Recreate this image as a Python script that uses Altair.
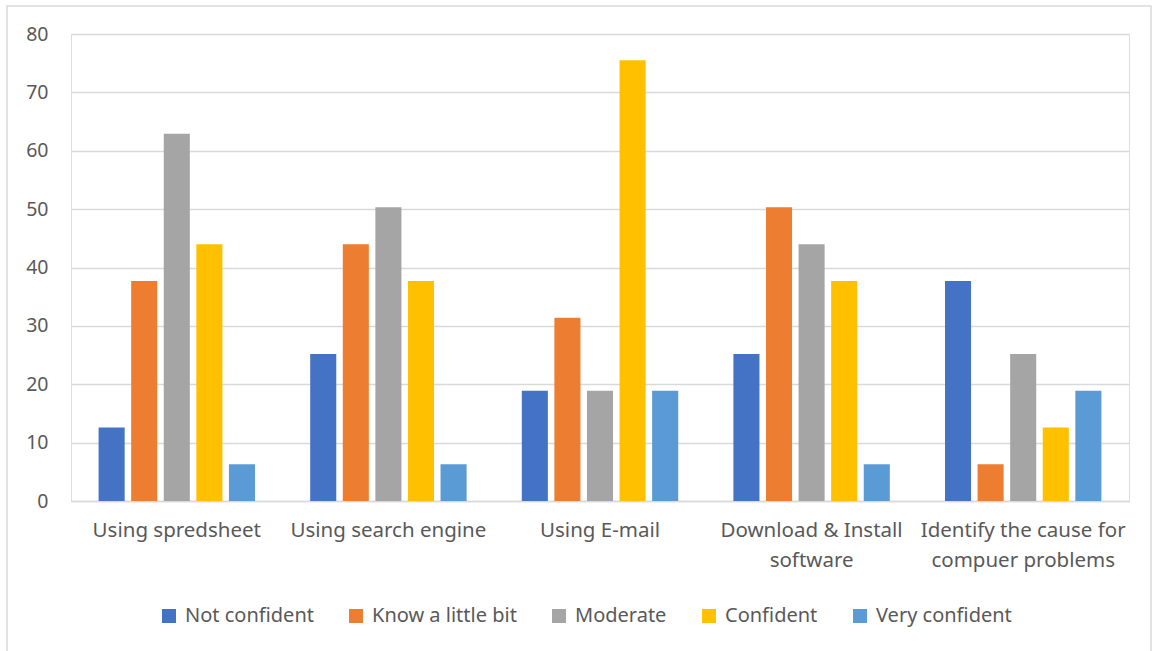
import altair as alt
import pandas as pd

categories = ["Using spredsheet", "Using search engine", "Using E-mail",
              "Download & Install software", "Identify the cause for compuer problems"]
series = ["Not confident", "Know a little bit", "Moderate", "Confident", "Very confident"]
not_confident = [12.6, 25.2, 18.9, 25.2, 37.7]
know_little = [37.7, 44.0, 31.4, 50.3, 6.3]
moderate = [62.9, 50.3, 18.9, 44.0, 25.2]
confident = [44.0, 37.7, 75.5, 37.7, 12.6]
very_confident = [6.3, 6.3, 18.9, 6.3, 18.9]
colors = ["#4472C4", "#ED7D31", "#A5A5A5", "#FFC000", "#5B9BD5"]
y_ticks = [0, 10, 20, 30, 40, 50, 60, 70, 80]

rows = []
for s, vals in zip(series, [not_confident, know_little, moderate, confident, very_confident]):
    for c, v in zip(categories, vals):
        rows.append({"category": c, "series": s, "value": v})
df = pd.DataFrame(rows)

FONT = "Noto Sans"
label_expr = ("datum.label == 'Download & Install software' ? ['Download & Install', 'software'] : "
              "datum.label == 'Identify the cause for compuer problems' ? ['Identify the cause for', 'compuer problems'] : datum.label")

bars = alt.Chart(df).mark_bar().encode(
    x=alt.X("category:N", sort=categories, title=None,
            scale=alt.Scale(paddingInner=0.23, paddingOuter=0.115),
            axis=alt.Axis(labelAngle=0, labelExpr=label_expr, ticks=False, domain=True,
                          domainColor="#d9d9d9", domainWidth=1.5, labelFont=FONT,
                          labelFontSize=20.5, labelColor="#595959", labelPadding=19,
                          labelLineHeight=30, labelLimit=0)),
    xOffset=alt.XOffset("series:N", sort=series,
                        scale=alt.Scale(paddingInner=0.2, paddingOuter=0.1)),
    y=alt.Y("value:Q", title=None, scale=alt.Scale(domain=[0, 80]),
            axis=alt.Axis(values=y_ticks, ticks=False, domain=False, gridColor="#d9d9d9",
                          gridWidth=1.5, labelFont=FONT, labelFontSize=19.5,
                          labelColor="#595959", labelPadding=23)),
    color=alt.Color("series:N", sort=series, scale=alt.Scale(domain=series, range=colors),
                    legend=alt.Legend(title=None, orient="none", direction="horizontal",
                                      legendX=88, legendY=572, symbolType="square",
                                      symbolSize=196, symbolStrokeWidth=0,
                                      labelFont=FONT, labelFontSize=20,
                                      labelColor="#595959", columnPadding=32,
                                      labelOffset=6, labelLimit=0)),
)

frame = alt.Chart(pd.DataFrame({"a": [0]})).mark_rect(
    fill=None, stroke="#d9d9d9", strokeWidth=1.5
).encode(x=alt.value(-64), x2=alt.value(1080), y=alt.value(-28), y2=alt.value(640))

chart = alt.layer(frame, bars).properties(
    width=1058, height=467,
    autosize=alt.AutoSizeParams(type="none"),
    padding={"left": 71, "top": 34, "right": 28, "bottom": 150},
).configure_view(stroke=None).configure(background="white")

chart.save("out.html", embed_options={"renderer": "svg", "actions": False})
